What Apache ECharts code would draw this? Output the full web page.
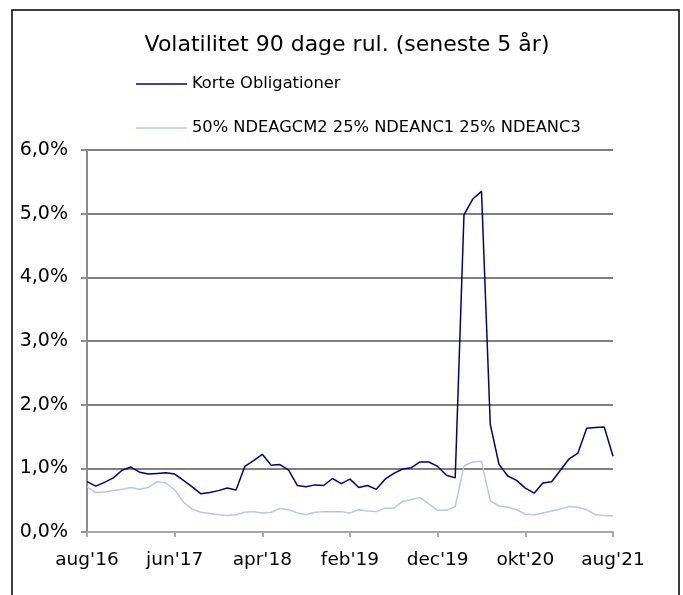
<!DOCTYPE html>
<html>
<head>
<meta charset="utf-8">
<script src="https://cdn.jsdelivr.net/npm/echarts@6/dist/echarts.min.js"></script>
<style>
html,body{margin:0;padding:0;background:#fff;}
#chart{width:683px;height:595px;}
</style>
</head>
<body>
<div id="chart"></div>
<script>
var categories = [
"aug'16","sep'16","okt'16","nov'16","dec'16",
"jan'17","feb'17","mar'17","apr'17","maj'17","jun'17","jul'17","aug'17","sep'17","okt'17","nov'17","dec'17",
"jan'18","feb'18","mar'18","apr'18","maj'18","jun'18","jul'18","aug'18","sep'18","okt'18","nov'18","dec'18",
"jan'19","feb'19","mar'19","apr'19","maj'19","jun'19","jul'19","aug'19","sep'19","okt'19","nov'19","dec'19",
"jan'20","feb'20","mar'20","apr'20","maj'20","jun'20","jul'20","aug'20","sep'20","okt'20","nov'20","dec'20",
"jan'21","feb'21","mar'21","apr'21","maj'21","jun'21","jul'21","aug'21"
];
var korteObligationer = [
0.79,0.72,0.78,0.85,0.97,1.02,0.94,0.91,0.92,0.93,
0.91,0.81,0.71,0.60,0.62,0.65,0.69,0.66,1.03,1.12,
1.22,1.05,1.06,0.97,0.73,0.71,0.74,0.73,0.84,0.76,
0.83,0.70,0.73,0.67,0.83,0.92,0.99,1.01,1.10,1.10,
1.03,0.89,0.85,4.98,5.23,5.35,1.69,1.06,0.88,0.81,
0.69,0.61,0.77,0.79,0.97,1.15,1.24,1.63,1.64,1.65,
1.19
];
var benchmark = [
0.71,0.62,0.63,0.65,0.67,0.70,0.67,0.70,0.79,0.77,
0.66,0.47,0.36,0.31,0.29,0.27,0.26,0.27,0.31,0.32,
0.30,0.31,0.37,0.35,0.30,0.27,0.31,0.32,0.32,0.32,
0.30,0.35,0.33,0.32,0.375,0.375,0.48,0.51,0.54,0.44,
0.34,0.34,0.40,1.04,1.10,1.11,0.49,0.41,0.39,0.35,
0.28,0.27,0.30,0.33,0.36,0.40,0.39,0.35,0.27,0.26,
0.25
];
var seriesNames = ["Korte Obligationer", "50% NDEAGCM2 25% NDEANC1 25% NDEANC3"];
var titleText = "Volatilitet 90 dage rul. (seneste 5 år)";

var FONT = "DejaVu Sans";
var chart = echarts.init(document.getElementById('chart'));
chart.setOption({
  animation: false,
  backgroundColor: '#ffffff',
  title: {
    text: titleText,
    left: 347,
    textAlign: 'center',
    top: 34,
    padding: 0,
    textStyle: {fontFamily: FONT, fontSize: 22, fontWeight: 'normal', color: '#000'}
  },
  legend: [
    {
      data: [seriesNames[0]], left: 136, top: 76, padding: 0, icon: 'rect', itemWidth: 51, itemHeight: 1.5,
      textStyle: {fontFamily: FONT, fontSize: 16.3, color: '#000'}
    },
    {
      data: [seriesNames[1]], left: 136, top: 120, padding: 0, icon: 'rect', itemWidth: 51, itemHeight: 1.5,
      textStyle: {fontFamily: FONT, fontSize: 16.3, color: '#000'}
    }
  ],
  graphic: [{
    type: 'rect', shape: {x: 12, y: 10, width: 667, height: 600},
    style: {fill: 'none', stroke: '#000', lineWidth: 1.5}, silent: true, z: -1
  }],
  grid: {left: 87, right: 70, top: 150, bottom: 63, containLabel: false},
  xAxis: {
    type: 'category',
    data: categories,
    boundaryGap: false,
    axisLine: {lineStyle: {color: '#a6a6a6', width: 2}},
    axisTick: {interval: 9, length: 5, lineStyle: {color: '#a6a6a6', width: 2}},
    axisLabel: {interval: 9, margin: 19, fontFamily: FONT, fontSize: 18.5, color: '#000'},
    splitLine: {show: false}
  },
  yAxis: {
    type: 'value', min: 0, max: 6, interval: 1,
    axisLine: {show: true, lineStyle: {color: '#8c8c8c', width: 2}},
    axisTick: {show: true, length: 6, lineStyle: {color: '#8c8c8c', width: 2}},
    axisLabel: {
      margin: 19, fontFamily: FONT, fontSize: 19, color: '#000',
      formatter: function (v) { return v.toFixed(1).replace('.', ',') + '%'; }
    },
    splitLine: {lineStyle: {color: '#808080', width: 2}}
  },
  series: [
    {
      name: seriesNames[0], type: 'line', data: korteObligationer, showSymbol: false, symbol: 'none',
      lineStyle: {color: '#000080', width: 1.5}, itemStyle: {color: '#000080'}, z: 3
    },
    {
      name: seriesNames[1], type: 'line', data: benchmark, showSymbol: false, symbol: 'none',
      lineStyle: {color: '#b4c7ec', width: 1.5}, itemStyle: {color: '#b4c7ec'}, z: 2
    }
  ]
});
</script>
</body>
</html>
